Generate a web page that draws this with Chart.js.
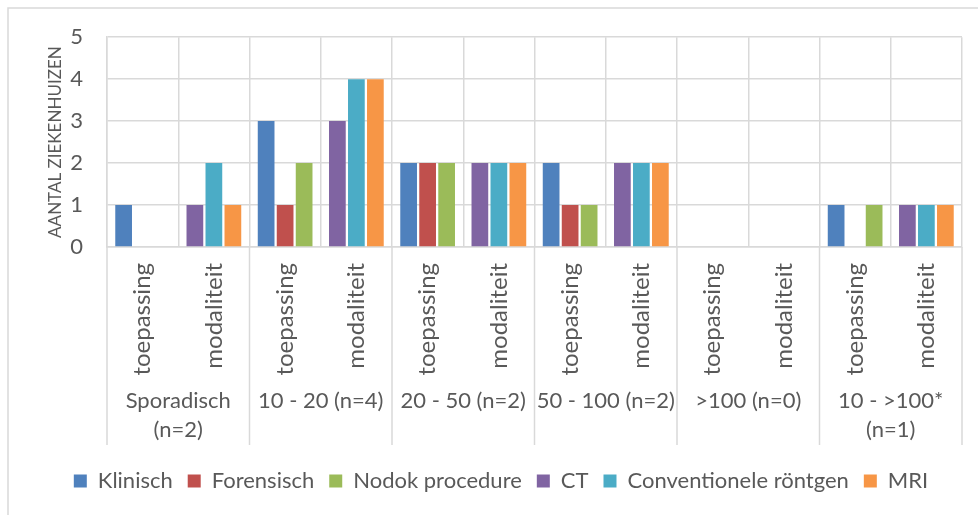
<!DOCTYPE html>
<html>
<head>
<meta charset="utf-8">
<script src="https://cdn.jsdelivr.net/npm/chart.js@4/dist/chart.umd.min.js"></script>
<style>
  html, body { margin: 0; padding: 0; background: #ffffff; }
  #wrap { width: 978px; height: 515px; position: relative; }
</style>
</head>
<body>
<div id="wrap"><canvas id="chart" width="978" height="515"></canvas></div>
<script>
// Sub-categories (per ziekenhuisgroep) and the groups underneath them
const subLabels = [
  'toepassing', 'modaliteit',
  'toepassing', 'modaliteit',
  'toepassing', 'modaliteit',
  'toepassing', 'modaliteit',
  'toepassing', 'modaliteit',
  'toepassing', 'modaliteit'
];
const groupLabels = [
  ['Sporadisch', '(n=2)'],
  '10 - 20 (n=4)',
  '20 - 50 (n=2)',
  '50 - 100 (n=2)',
  '>100 (n=0)',
  ['10 - >100*', '(n=1)']
];

// Aantal ziekenhuizen per serie (null = serie hoort niet bij deze sub-categorie)
const klinisch     = [1, null, 3, null, 2, null, 2, null, 0, null, 1, null];
const forensisch   = [0, null, 1, null, 2, null, 1, null, 0, null, 0, null];
const nodok        = [0, null, 2, null, 2, null, 1, null, 0, null, 1, null];
const ct           = [null, 1, null, 3, null, 2, null, 2, null, 0, null, 1];
const conventioneel= [null, 2, null, 4, null, 2, null, 2, null, 0, null, 1];
const mri          = [null, 1, null, 4, null, 2, null, 2, null, 0, null, 1];

const seriesNames = ['Klinisch', 'Forensisch', 'Nodok procedure', 'CT', 'Conventionele röntgen', 'MRI'];
const seriesColors = ['#4F81BD', '#C0504D', '#9BBB59', '#8064A2', '#4BACC6', '#F79646'];

const yMin = 0, yMax = 5, yStep = 1;
const yTitle = 'AANTAL ZIEKENHUIZEN';

const TEXT = '#595959';
const GRID = '#d9d9d9';
const FONT = 'Lato';
const GROUP_BAND = 60;   // height of the group-label band under the rotated labels

// Light frame along the top and left of the chart
const frame = {
  id: 'frame',
  beforeDraw(chart) {
    const ctx = chart.ctx;
    ctx.save();
    ctx.strokeStyle = GRID;
    ctx.lineWidth = 1.5;
    ctx.beginPath();
    ctx.moveTo(8, chart.height);
    ctx.lineTo(8, 8);
    ctx.lineTo(chart.width, 8);
    ctx.stroke();
    ctx.restore();
  }
};

// Vertical separators between the groups, running through both label bands
const groupSeparators = {
  id: 'groupSeparators',
  afterDraw(chart) {
    const x = chart.scales.x, x2 = chart.scales.x2;
    const ctx = chart.ctx;
    ctx.save();
    ctx.strokeStyle = GRID;
    ctx.lineWidth = 1.5;
    for (let i = 0; i <= groupLabels.length; i++) {
      const px = x2.getPixelForValue(i - 0.5);
      ctx.beginPath();
      ctx.moveTo(px, x.top);
      ctx.lineTo(px, x2.top + GROUP_BAND);
      ctx.stroke();
    }
    ctx.restore();
  }
};

function draw() {
  const allSeries = [klinisch, forensisch, nodok, ct, conventioneel, mri];
  const datasets = allSeries.map((data, i) => ({
    label: seriesNames[i],
    data: data,
    backgroundColor: seriesColors[i],
    borderWidth: 0,
    skipNull: true,
    categoryPercentage: 0.8,
    barPercentage: 0.88
  }));

  new Chart(document.getElementById('chart'), {
    type: 'bar',
    data: { labels: subLabels, datasets: datasets },
    plugins: [frame, groupSeparators],
    options: {
      responsive: false,
      animation: false,
      devicePixelRatio: 1,
      layout: { padding: { left: 40, top: 37, right: 16, bottom: 13 } },
      plugins: {
        tooltip: { enabled: false },
        legend: {
          position: 'bottom',
          labels: {
            boxWidth: 13,
            boxHeight: 13,
            padding: 15,
            color: TEXT,
            font: { family: FONT, size: 22 }
          }
        }
      },
      scales: {
        x: {
          type: 'category',
          offset: true,
          grid: { display: true, offset: true, color: GRID, lineWidth: 1.5, drawTicks: false },
          border: { display: true, color: GRID, width: 1.5 },
          ticks: {
            color: TEXT,
            font: { family: FONT, size: 24 },
            minRotation: 90,
            maxRotation: 90,
            autoSkip: false,
            padding: 16
          },
          afterFit(scale) { scale.height = 138; }
        },
        x2: {
          type: 'category',
          position: 'bottom',
          weight: 1,
          labels: groupLabels,
          offset: true,
          grid: { display: false },
          border: { display: false },
          ticks: {
            color: TEXT,
            font: { family: FONT, size: 22, lineHeight: 1.3 },
            maxRotation: 0,
            minRotation: 0,
            autoSkip: false,
            padding: -6
          },
          afterFit(scale) { scale.height = GROUP_BAND + 10; }
        },
        y: {
          min: yMin,
          max: yMax,
          grid: { color: GRID, lineWidth: 1.5, drawTicks: false },
          border: { display: true, color: GRID, width: 1.5 },
          ticks: {
            stepSize: yStep,
            color: TEXT,
            font: { family: FONT, size: 22 },
            padding: 24
          },
          title: {
            display: true,
            text: yTitle,
            color: TEXT,
            font: { family: FONT, size: 17 },
            padding: { top: 5, bottom: 0 }
          },
          afterFit(scale) { scale.width = 67; }
        }
      }
    }
  });
}

if (document.fonts && document.fonts.load) {
  document.fonts.load('22px ' + FONT).then(draw, draw);
} else {
  draw();
}
</script>
</body>
</html>
